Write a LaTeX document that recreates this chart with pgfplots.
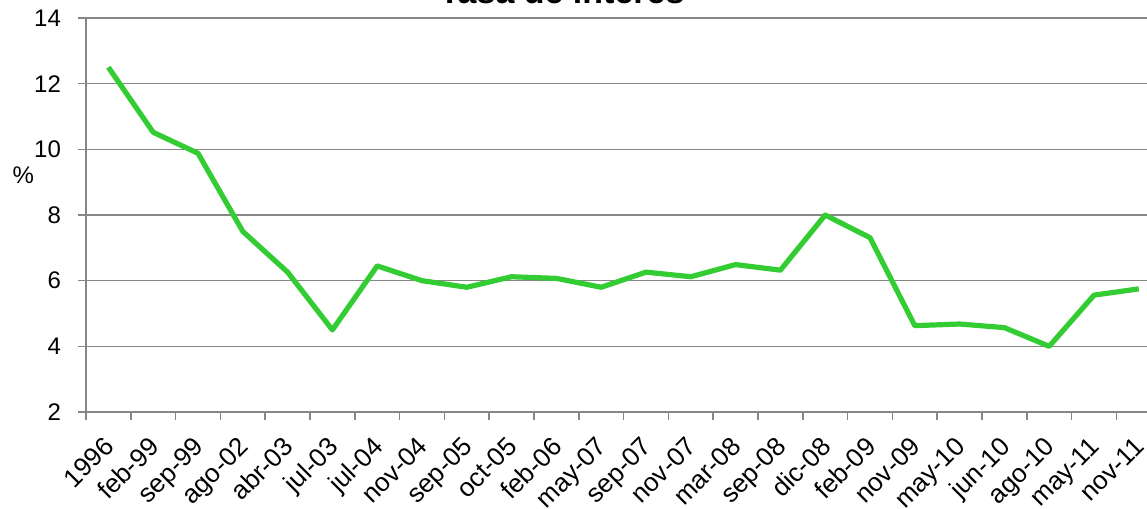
\documentclass[border=0pt]{standalone}
\usepackage{pgfplots}
\pgfplotsset{compat=1.18}
\usepackage{fontspec}
\setmainfont{Liberation Sans}

\definecolor{linegreen}{RGB}{51,204,51}
\definecolor{gridgray}{RGB}{134,134,134}

\begin{document}
\begin{tikzpicture}
\path[use as bounding box] (-43pt,-48.5pt) rectangle (530.5pt,206pt);
\clip (-43pt,-48.5pt) rectangle (530.5pt,206pt);
\begin{axis}[
    at={(0pt,0pt)}, anchor=south west,
    x=22.4pt, y=16.415pt,
    xmin=-0.5, xmax=23.18,
    ymin=2, ymax=14,
    axis x line*=bottom,
    axis y line*=left,
    axis line style={gridgray, line width=0.8pt},
    ytick={2,4,...,14},
    ymajorgrids=true,
    major grid style={gridgray, line width=0.8pt},
    tick align=outside,
    major tick length=4pt,
    minor tick length=4pt,
    every tick/.style={gridgray, line width=0.8pt},
    xtick={0,...,23},
    major x tick style={draw=none},
    minor xtick={-0.5,0.5,...,22.5},
    xticklabels={1996,feb-99,sep-99,ago-02,abr-03,jul-03,jul-04,nov-04,sep-05,oct-05,feb-06,may-07,sep-07,nov-07,mar-08,sep-08,dic-08,feb-09,nov-09,may-10,jun-10,ago-10,may-11,nov-11},
    xticklabel style={xshift=-3pt, yshift=-6pt, rotate=45, anchor=north east, inner sep=1pt, font=\fontsize{13}{15}\selectfont},
    yticklabel style={xshift=-5pt, font=\fontsize{12}{14}\selectfont},
    /pgf/number format/assume math mode=true,
    ylabel={\%},
    ylabel style={rotate=-90, at={(axis description cs:-0.059,0.60)}, anchor=center, font=\fontsize{12}{14}\selectfont},
    clip=false,
]
\addplot[linegreen, line width=2.6pt, line join=round, mark=none] coordinates {
    (0,12.5) (1,10.52) (2,9.88) (3,7.5) (4,6.26) (5,4.5)
    (6,6.45) (7,6.0) (8,5.8) (9,6.12) (10,6.07) (11,5.8)
    (12,6.26) (13,6.12) (14,6.49) (15,6.32) (16,8.0) (17,7.31)
    (18,4.63) (19,4.68) (20,4.57) (21,4.0) (22,5.56) (23,5.75)
};
\end{axis}
\node[anchor=base, font=\bfseries\fontsize{17}{20}\selectfont] at (238pt,204pt) {Tasa de interés};
\end{tikzpicture}
\end{document}
